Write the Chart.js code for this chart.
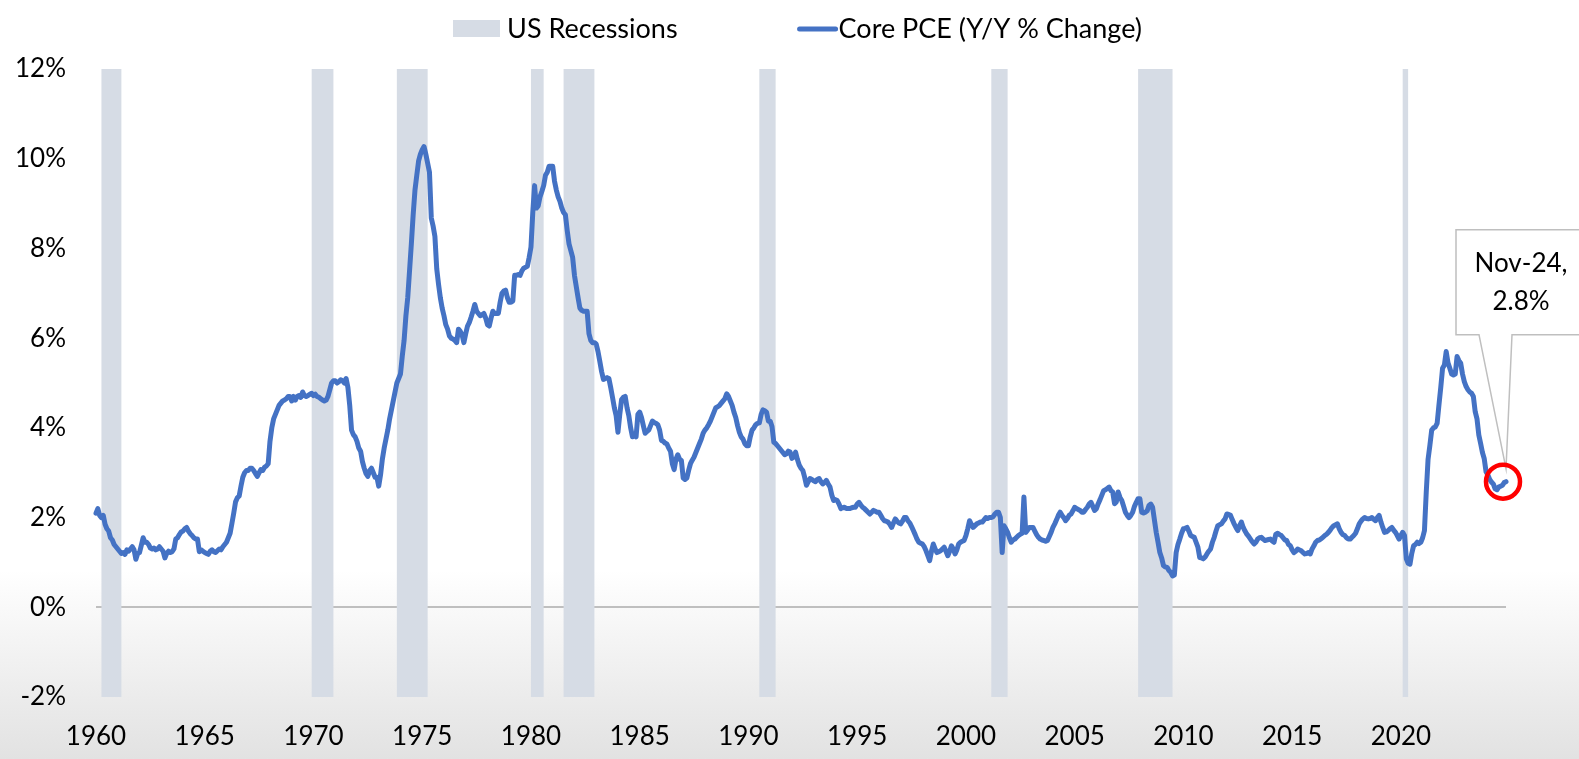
<!DOCTYPE html>
<html>
<head>
<meta charset="utf-8">
<title>Core PCE</title>
<script src="https://cdn.jsdelivr.net/npm/chart.js@4.4.1/dist/chart.umd.min.js"></script>
<style>
  html, body { margin: 0; padding: 0; }
  body {
    width: 1579px; height: 759px; overflow: hidden;
    background: linear-gradient(to bottom, #ffffff 0px, #ffffff 570px, #e2e2e2 759px);
  }
  canvas { display: block; }
</style>
</head>
<body>
<canvas id="grafico" width="1579" height="759"></canvas>
<script>
// monthly Core PCE, Y/Y % change, one row per year (Jan..Dec)
const startYear = 1960;
const pce1960s = [
  2.1, 2.2, 2.05, 2.0, 2.05, 1.85, 1.75, 1.7, 1.55, 1.5, 1.4, 1.35,
  1.3, 1.25, 1.2, 1.22, 1.18, 1.28, 1.25, 1.3, 1.35, 1.28, 1.07, 1.2,
  1.22, 1.38, 1.55, 1.45, 1.45, 1.4, 1.32, 1.3, 1.32, 1.28, 1.3, 1.35,
  1.3, 1.25, 1.1, 1.2, 1.25, 1.22, 1.24, 1.3, 1.52, 1.55, 1.62, 1.68,
  1.7, 1.75, 1.78, 1.7, 1.64, 1.6, 1.55, 1.52, 1.52, 1.24, 1.28, 1.25,
  1.22, 1.2, 1.18, 1.25, 1.28, 1.24, 1.22, 1.26, 1.3, 1.28, 1.35, 1.4,
  1.45, 1.55, 1.65, 1.87, 2.1, 2.35, 2.44, 2.48, 2.7, 2.9, 3.0, 3.05,
  3.05, 3.1, 3.1, 3.05, 2.98, 2.92, 3.0, 3.07, 3.05, 3.12, 3.15, 3.2,
  3.7, 4.0, 4.2, 4.3, 4.4, 4.5, 4.55, 4.6, 4.62, 4.65, 4.7, 4.7,
  4.6, 4.7, 4.62, 4.7, 4.72, 4.68, 4.8, 4.72, 4.7, 4.72, 4.75, 4.77
];
const pce1970s = [
  4.72, 4.75, 4.7, 4.68, 4.65, 4.62, 4.6, 4.62, 4.7, 4.85, 5.0, 5.05,
  5.05, 5.0, 5.03, 5.07, 5.05, 5.0, 5.1, 4.9, 4.5, 3.95, 3.85, 3.8,
  3.7, 3.55, 3.48, 3.25, 3.1, 2.98, 2.92, 3.05, 3.1, 3.0, 2.9, 2.9,
  2.7, 2.95, 3.3, 3.55, 3.75, 3.95, 4.2, 4.4, 4.6, 4.8, 5.0, 5.1,
  5.2, 5.6, 5.95, 6.5, 6.9, 7.5, 8.1, 8.75, 9.3, 9.63, 9.95, 10.1,
  10.2, 10.27, 10.1, 9.9, 9.7, 8.68, 8.5, 8.27, 7.55, 7.2, 6.9, 6.67,
  6.5, 6.3, 6.2, 6.05, 6.0, 5.98, 5.95, 5.9, 6.2, 6.15, 6.07, 5.9,
  6.1, 6.27, 6.35, 6.47, 6.6, 6.75, 6.6, 6.55, 6.5, 6.52, 6.55, 6.45,
  6.3, 6.27, 6.45, 6.6, 6.55, 6.55, 6.55, 6.8, 7.0, 7.05, 7.07, 6.9,
  6.8, 6.8, 6.83, 7.4, 7.4, 7.42, 7.4, 7.5, 7.56, 7.58, 7.6, 7.8
];
const pce1980s = [
  8.03, 8.8, 9.4, 8.9, 8.95, 9.15, 9.27, 9.4, 9.63, 9.7, 9.83, 9.83,
  9.83, 9.5, 9.3, 9.15, 9.05, 8.9, 8.8, 8.75, 8.4, 8.1, 7.95, 7.8,
  7.4, 7.15, 6.9, 6.67, 6.62, 6.6, 6.6, 6.6, 6.1, 5.95, 5.9, 5.9,
  5.87, 5.7, 5.48, 5.25, 5.08, 5.1, 5.12, 5.1, 4.9, 4.68, 4.45, 4.27,
  3.9, 4.3, 4.63, 4.68, 4.7, 4.45, 4.27, 4.0, 3.8, 3.85, 3.8, 4.3,
  4.35, 4.23, 4.05, 3.88, 3.92, 3.95, 4.05, 4.15, 4.12, 4.1, 4.07, 3.95,
  3.72, 3.7, 3.66, 3.64, 3.55, 3.48, 3.2, 3.07, 3.3, 3.4, 3.3, 3.27,
  2.88, 2.85, 2.88, 3.05, 3.2, 3.28, 3.35, 3.45, 3.55, 3.65, 3.75, 3.88,
  3.95, 4.0, 4.07, 4.15, 4.25, 4.35, 4.45, 4.47, 4.5, 4.55, 4.6, 4.65,
  4.76, 4.7, 4.6, 4.5, 4.35, 4.23, 4.05, 3.9, 3.8, 3.75, 3.65, 3.6
];
const pce1990s = [
  3.6, 3.8, 3.95, 4.0, 4.07, 4.1, 4.11, 4.3, 4.4, 4.38, 4.35, 4.15,
  4.15, 4.03, 3.68, 3.65, 3.6, 3.55, 3.5, 3.45, 3.4, 3.42, 3.48, 3.46,
  3.32, 3.35, 3.46, 3.3, 3.17, 3.1, 3.05, 2.9, 2.72, 2.8, 2.87, 2.85,
  2.82, 2.8, 2.85, 2.87, 2.8, 2.75, 2.78, 2.83, 2.75, 2.68, 2.5, 2.38,
  2.4, 2.38, 2.3, 2.2, 2.22, 2.23, 2.2, 2.2, 2.2, 2.22, 2.23, 2.23,
  2.3, 2.34, 2.28, 2.23, 2.2, 2.16, 2.12, 2.08, 2.12, 2.16, 2.14, 2.12,
  2.12, 2.05, 1.98, 1.93, 1.92, 1.9, 1.85, 1.78, 1.88, 1.97, 1.92, 1.88,
  1.86, 1.92, 2.0, 2.0, 1.93, 1.88, 1.8, 1.71, 1.62, 1.52, 1.45, 1.43,
  1.41, 1.35, 1.26, 1.15, 1.04, 1.25, 1.41, 1.3, 1.22, 1.24, 1.26, 1.3,
  1.34, 1.25, 1.15, 1.25, 1.37, 1.3, 1.19, 1.28, 1.41, 1.45, 1.47, 1.49
];
const pce2000s = [
  1.6, 1.75, 1.93, 1.85, 1.78, 1.82, 1.86, 1.88, 1.9, 1.9, 1.95, 2.0,
  1.98, 2.0, 2.0, 2.02, 2.08, 2.12, 2.12, 2.0, 1.22, 1.82, 1.75, 1.67,
  1.55, 1.45, 1.5, 1.52, 1.56, 1.6, 1.63, 1.65, 2.46, 1.67, 1.72, 1.78,
  1.78, 1.78, 1.7, 1.62, 1.56, 1.52, 1.5, 1.49, 1.47, 1.49, 1.58, 1.67,
  1.78, 1.86, 1.95, 2.05, 2.12, 2.05, 2.0, 1.93, 1.98, 2.05, 2.08, 2.15,
  2.23, 2.2, 2.18, 2.16, 2.12, 2.12, 2.18, 2.23, 2.3, 2.34, 2.25, 2.16,
  2.2, 2.31, 2.4, 2.5, 2.6, 2.62, 2.65, 2.68, 2.6, 2.57, 2.31, 2.35,
  2.57, 2.45, 2.38, 2.25, 2.12, 2.05, 2.0, 2.05, 2.12, 2.25, 2.34, 2.42,
  2.42, 2.12, 2.1, 2.12, 2.15, 2.27, 2.3, 2.23, 1.95, 1.67, 1.45, 1.22,
  1.1, 0.93, 0.9, 0.89, 0.82, 0.78, 0.7, 0.72, 1.22, 1.4, 1.52, 1.65
];
const pce2010s = [
  1.75, 1.76, 1.78, 1.7, 1.6, 1.58, 1.56, 1.45, 1.34, 1.11, 1.1, 1.08,
  1.12, 1.19, 1.25, 1.3, 1.45, 1.56, 1.7, 1.82, 1.84, 1.86, 1.92, 1.97,
  2.08, 2.07, 2.05, 1.95, 1.86, 1.78, 1.71, 1.82, 1.9, 1.78, 1.7, 1.63,
  1.58, 1.52, 1.46, 1.41, 1.45, 1.52, 1.55, 1.56, 1.52, 1.49, 1.5, 1.51,
  1.52, 1.48, 1.45, 1.63, 1.65, 1.62, 1.6, 1.55, 1.5, 1.49, 1.4, 1.37,
  1.28, 1.22, 1.25, 1.3, 1.28, 1.26, 1.22, 1.19, 1.2, 1.22, 1.19, 1.3,
  1.37, 1.45, 1.49, 1.5, 1.53, 1.56, 1.6, 1.63, 1.67, 1.72, 1.78, 1.82,
  1.84, 1.86, 1.75, 1.67, 1.62, 1.6, 1.55, 1.52, 1.52, 1.56, 1.6, 1.65,
  1.75, 1.86, 1.92, 1.97, 2.0, 1.98, 1.97, 1.98, 2.0, 1.96, 1.93, 2.0,
  2.05, 1.9, 1.78, 1.67, 1.68, 1.71, 1.75, 1.78, 1.72, 1.67, 1.6, 1.52
];
const pce2020s = [
  1.6, 1.67, 1.6, 1.08, 0.98, 0.96, 1.2, 1.37, 1.4, 1.45, 1.42, 1.45,
  1.55, 1.71, 2.57, 3.3, 3.61, 3.95, 4.0, 4.02, 4.1, 4.51, 4.9, 5.33,
  5.4, 5.7, 5.45, 5.33, 5.2, 5.18, 5.2, 5.59, 5.5, 5.44, 5.2, 5.03,
  4.92, 4.85, 4.8, 4.77, 4.7, 4.36, 4.2, 3.84, 3.65, 3.45, 3.31, 3.02,
  2.95, 2.85, 2.79, 2.75, 2.64, 2.62, 2.68, 2.7, 2.72, 2.78, 2.8
];

// NBER recessions, start / end as fractional years
const recessionStart = [1960.25, 1969.917, 1973.833, 1980.0, 1981.5, 1990.5, 2001.167, 2007.917, 2020.083];
const recessionEnd   = [1961.167, 1970.917, 1975.25, 1980.583, 1982.917, 1991.25, 2001.917, 2009.5, 2020.333];

const xTicks = [1960, 1965, 1970, 1975, 1980, 1985, 1990, 1995, 2000, 2005, 2010, 2015, 2020];
const yTicks = [-2, 0, 2, 4, 6, 8, 10, 12];
const legendNames = ['US Recessions', 'Core PCE (Y/Y % Change)'];
const calloutText = ['Nov-24,', '2.8%'];

const fonte = "Lato, 'Open Sans', sans-serif";
const corLinha = '#4472c4';
const corRecessao = '#d6dce5';

const valores = [].concat(pce1960s, pce1970s, pce1980s, pce1990s, pce2000s, pce2010s, pce2020s);
const pontos = valores.map((v, i) => ({ x: startYear + i / 12, y: v }));
const ultimoX = pontos[pontos.length - 1].x;

const recessoes = {
    id: 'recessoes',
    beforeDatasetsDraw(chart) {
        const { ctx, chartArea, scales } = chart;
        ctx.save();
        ctx.fillStyle = corRecessao;
        recessionStart.forEach((ini, i) => {
            const x0 = scales.x.getPixelForValue(ini);
            const x1 = scales.x.getPixelForValue(recessionEnd[i]);
            ctx.fillRect(x0, chartArea.top, x1 - x0, chartArea.bottom - chartArea.top);
        });
        ctx.restore();
    }
};

const legenda = {
    id: 'legenda',
    afterDraw(chart) {
        const ctx = chart.ctx;
        ctx.save();
        ctx.font = '27px ' + fonte;
        const w1 = ctx.measureText(legendNames[0]).width;
        const w2 = ctx.measureText(legendNames[1]).width;
        const total = 47 + 7 + w1 + 122 + 36 + 3 + w2;
        let x = chart.width / 2 + 8 - total / 2;
        const y = 29;
        ctx.fillStyle = corRecessao;
        ctx.fillRect(x, 20, 47, 17);
        x += 47 + 7;
        ctx.fillStyle = '#000';
        ctx.textBaseline = 'middle';
        ctx.fillText(legendNames[0], x, y);
        x += w1 + 122;
        ctx.strokeStyle = corLinha;
        ctx.lineWidth = 5;
        ctx.lineCap = 'round';
        ctx.beginPath();
        ctx.moveTo(x, y);
        ctx.lineTo(x + 36, y);
        ctx.stroke();
        x += 36 + 3;
        ctx.fillText(legendNames[1], x, y);
        ctx.restore();
    }
};

const destaque = {
    id: 'destaque',
    afterDatasetsDraw(chart) {
        const { ctx } = chart;
        const meta = chart.getDatasetMeta(0);
        const p = meta.data[meta.data.length - 1];
        const px = p.x, py = p.y;
        const top = py - 252, bottom = py - 147, left = px - 50;
        ctx.save();
        // caixa do rotulo
        ctx.fillStyle = '#fff';
        ctx.strokeStyle = '#bfbfbf';
        ctx.lineWidth = 1.5;
        ctx.beginPath();
        ctx.moveTo(left, top);
        ctx.lineTo(chart.width + 5, top);
        ctx.lineTo(chart.width + 5, bottom);
        ctx.lineTo(px + 6, bottom);
        ctx.lineTo(px, py - 13);
        ctx.lineTo(px - 27, bottom);
        ctx.lineTo(left, bottom);
        ctx.closePath();
        ctx.fill();
        ctx.stroke();
        ctx.fillStyle = '#000';
        ctx.font = '26px ' + fonte;
        ctx.textAlign = 'center';
        ctx.textBaseline = 'middle';
        ctx.fillText(calloutText[0], px + 15, py - 218);
        ctx.fillText(calloutText[1], px + 15, py - 180);
        // circulo vermelho
        ctx.strokeStyle = '#ff0000';
        ctx.lineWidth = 4.5;
        ctx.beginPath();
        ctx.arc(px - 3, py, 17, 0, Math.PI * 2);
        ctx.stroke();
        ctx.restore();
    }
};

const ctx = document.getElementById('grafico').getContext('2d');
window.grafico = new Chart(ctx, {
    type: 'line',
    data: {
        datasets: [{
            label: legendNames[1],
            data: pontos,
            borderColor: corLinha,
            backgroundColor: corLinha,
            borderWidth: 5,
            borderJoinStyle: 'round',
            borderCapStyle: 'round',
            pointRadius: 0,
            tension: 0,
            clip: false
        }]
    },
    options: {
        responsive: false,
        animation: false,
        layout: { padding: { top: 69, right: 73, left: 0, bottom: 0 } },
        plugins: {
            legend: { display: false },
            tooltip: { enabled: false }
        },
        scales: {
            x: {
                type: 'linear',
                min: startYear,
                max: ultimoX,
                afterBuildTicks: s => { s.ticks = xTicks.map(v => ({ value: v })); },
                afterFit: s => { s.height = 62; },
                grid: { display: false, drawTicks: false },
                border: { display: false },
                ticks: {
                    autoSkip: false,
                    maxRotation: 0,
                    padding: 24,
                    color: '#000',
                    font: { family: fonte, size: 26 },
                    callback: v => String(v)
                }
            },
            y: {
                min: -2,
                max: 12,
                afterBuildTicks: s => { s.ticks = yTicks.map(v => ({ value: v })); },
                afterFit: s => { s.width = 96; },
                grid: {
                    drawTicks: false,
                    lineWidth: 2,
                    color: c => (c.tick && c.tick.value === 0) ? '#bfbfbf' : 'rgba(0,0,0,0)'
                },
                border: { display: false },
                ticks: {
                    padding: 30,
                    color: '#000',
                    font: { family: fonte, size: 26 },
                    callback: v => v + '%'
                }
            }
        }
    },
    plugins: [recessoes, destaque, legenda]
});
</script>
</body>
</html>
